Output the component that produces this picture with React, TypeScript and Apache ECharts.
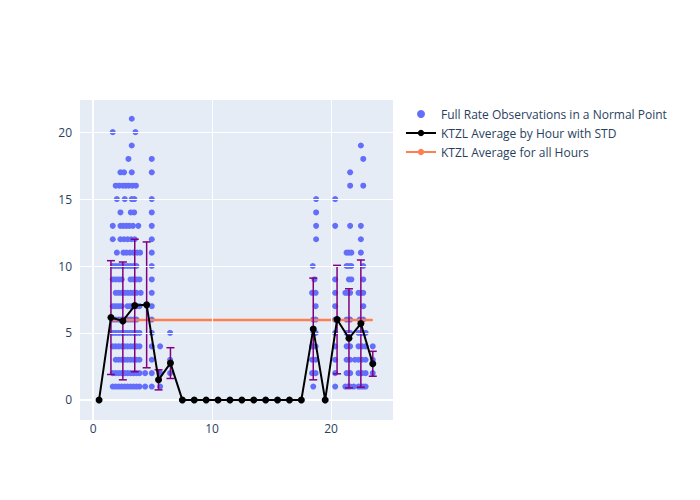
import React, { useEffect, useRef } from "react";
import * as echarts from "echarts";

// Hour-of-day averages
const avgHours = [0.5, 1.5, 2.5, 3.5, 4.5, 5.5, 6.5, 7.5, 8.5, 9.5, 10.5, 11.5, 12.5, 13.5, 14.5, 15.5, 16.5, 17.5, 18.5, 19.5, 20.5, 21.5, 22.5, 23.5];
const avgValues = [0, 6.15, 5.9, 7.05, 7.1, 1.5, 2.75, 0, 0, 0, 0, 0, 0, 0, 0, 0, 0, 0, 5.3, 0, 6.0, 4.6, 5.7, 2.7];
const stdValues = [0, 4.25, 4.4, 4.95, 4.7, 0.75, 1.15, 0, 0, 0, 0, 0, 0, 0, 0, 0, 0, 0, 3.8, 0, 4.05, 3.7, 4.75, 0.93];

// Overall average
const overallAvg = 5.97;
const overallHours = [1.5, 23.5];

// Observations: each row is a normal-point count, with the hours at which it occurred
const obsCounts = [1, 2, 3, 4, 5, 6, 7, 8, 9, 10, 11, 12, 13, 14, 15, 16, 17, 18, 19, 20, 21];
const obsHoursByCount = [
  [1.65, 1.9, 2.15, 2.4, 2.65, 2.9, 3.15, 3.4, 3.65, 3.9, 4.37, 4.93, 5.63, 18.5, 20.34, 21.2, 21.4, 21.6, 21.9, 22.3, 22.5, 22.7, 22.9],
  [1.65, 1.9, 2.15, 2.4, 2.65, 2.9, 3.15, 3.4, 3.65, 3.9, 4.37, 4.93, 5.63, 6.47, 18.4, 18.7, 20.34, 21.3, 21.6, 22.3, 22.6, 22.9, 23.5],
  [1.9, 2.15, 2.4, 2.65, 2.9, 3.15, 3.4, 3.65, 3.9, 4.93, 6.47, 18.4, 18.7, 20.34, 21.3, 21.6, 22.0, 22.3, 22.6, 22.9, 23.5],
  [1.65, 1.9, 2.15, 2.4, 2.65, 2.9, 3.15, 3.4, 3.65, 3.9, 4.93, 5.63, 18.4, 18.7, 20.34, 21.3, 21.6, 22.3, 22.6, 22.9, 23.5],
  [1.65, 1.9, 2.15, 2.4, 2.65, 2.9, 3.15, 3.4, 3.65, 3.9, 4.93, 6.47, 18.5, 18.7, 20.34, 21.3, 21.6, 22.3, 22.6, 22.9],
  [1.65, 1.9, 2.15, 2.4, 2.65, 2.9, 3.15, 3.4, 3.65, 4.93, 18.5, 18.7, 20.34, 20.6, 21.3, 21.6, 22.4, 22.7],
  [1.65, 1.9, 2.15, 2.4, 2.9, 3.15, 3.4, 3.65, 3.9, 4.93, 18.7, 20.34, 22.7],
  [1.9, 2.15, 2.4, 2.65, 2.9, 3.15, 3.4, 3.65, 4.0, 4.93, 18.4, 18.7, 20.34, 21.2, 21.4, 21.6, 22.3, 22.5, 22.7],
  [1.65, 1.9, 2.15, 2.4, 3.15, 3.4, 3.65, 3.9, 4.93, 18.6, 20.34, 21.5, 21.7, 22.7],
  [1.65, 1.9, 2.15, 2.4, 2.65, 2.9, 3.15, 3.4, 3.65, 4.93, 18.46, 21.3, 21.5, 21.7, 22.7],
  [2.0, 2.55, 2.8, 3.1, 3.4, 3.7, 3.95, 4.93, 21.3, 21.5, 21.7, 22.5],
  [1.65, 2.3, 2.6, 2.9, 3.2, 3.5, 4.93, 18.74, 22.5],
  [1.65, 2.3, 2.55, 2.8, 3.05, 3.35, 3.8, 4.93, 18.74, 20.34, 21.6, 22.5],
  [2.3, 3.17, 3.45, 4.93, 18.74],
  [2.0, 2.66, 3.25, 3.47, 4.93, 18.74, 20.34],
  [1.9, 2.2, 2.5, 2.75, 3.0, 3.3, 3.6, 21.6, 22.7],
  [2.3, 2.6, 3.25, 4.93, 21.6],
  [2.97, 4.93, 22.7],
  [3.25, 22.5],
  [1.65, 3.56],
  [3.25],
];

const xTicks = [0, 10, 20];
const yTicks = [0, 5, 10, 15, 20];

const FONT = '"Open Sans", verdana, arial, sans-serif';
const TEXT = "#2a3f5f";

export default function App() {
  const ref = useRef<HTMLDivElement>(null);
  useEffect(() => {
    if (!ref.current) return;
    const chart = echarts.init(ref.current, null, { renderer: "svg" });

    const obsData: number[][] = [];
    obsCounts.forEach((c, i) => {
      obsHoursByCount[i].forEach((h) => obsData.push([h, c]));
    });
    const avgData = avgHours.map((h, i) => [h, avgValues[i]]);
    const errData = avgHours
      .map((h, i) => [h, avgValues[i] - stdValues[i], avgValues[i] + stdValues[i]])
      .filter((d, i) => stdValues[i] > 0);

    chart.setOption({
      animation: false,
      backgroundColor: "#ffffff",
      textStyle: { fontFamily: FONT },
      grid: { left: 72, top: 92, width: 313, height: 320, backgroundColor: "#E5ECF6", show: true, borderWidth: 0 },
      xAxis: {
        type: "value",
        min: -1.1,
        max: 25.2,
        axisLine: { show: false },
        axisTick: { show: false },
        axisLabel: {
          color: TEXT,
          fontSize: 12,
          fontFamily: FONT,
          showMinLabel: false,
          showMaxLabel: false,
          margin: 2,
          formatter: (v: number) => (xTicks.includes(v) ? String(v) : ""),
        },
        splitLine: { show: false },
      },
      yAxis: {
        type: "value",
        min: -1.5,
        max: 22.4,
        axisLine: { show: false },
        axisTick: { show: false },
        axisLabel: {
          color: TEXT,
          fontSize: 12,
          fontFamily: FONT,
          showMinLabel: false,
          showMaxLabel: false,
          margin: 8,
          formatter: (v: number) => (yTicks.includes(v) ? String(v) : ""),
        },
        splitLine: { show: false },
      },
      legend: {
        orient: "vertical",
        left: 397,
        top: 100,
        padding: 0,
        itemGap: 7,
        itemWidth: 30,
        itemHeight: 8,
        textStyle: { color: TEXT, fontSize: 12, fontFamily: FONT },
        data: [
          { name: "Full Rate Observations in a Normal Point", icon: "circle" },
          { name: "KTZL Average by Hour with STD" },
          { name: "KTZL Average for all Hours" },
        ],
      },
      series: [
        {
          name: "grid",
          type: "line",
          data: [],
          silent: true,
          z: 1,
          markLine: {
            silent: true,
            symbol: "none",
            label: { show: false },
            lineStyle: { color: "#ffffff", width: 1, type: "solid" },
            data: [
              ...xTicks.map((v) => ({ xAxis: v, lineStyle: { width: v === 0 ? 2 : 1 } })),
              ...yTicks.map((v) => ({ yAxis: v, lineStyle: { width: v === 0 ? 2 : 1 } })),
            ],
          },
        },
        {
          name: "Full Rate Observations in a Normal Point",
          type: "scatter",
          data: obsData,
          symbol: "circle",
          symbolSize: 6,
          itemStyle: { color: "#636efa", opacity: 1 },
          z: 2,
        },
        {
          name: "KTZL Average for all Hours",
          type: "line",
          data: overallHours.map((h) => [h, overallAvg]),
          symbol: "none",
          lineStyle: { color: "#ff7f50", width: 2.5 },
          itemStyle: { color: "#ff7f50" },
          z: 3,
        },
        {
          name: "errbars",
          type: "custom",
          data: errData,
          z: 4,
          renderItem: (params: any, api: any) => {
            const x = api.value(0);
            const lo = api.coord([x, api.value(1)]);
            const hi = api.coord([x, api.value(2)]);
            const w = 4;
            const style = { stroke: "#800080", lineWidth: 1.5 };
            return {
              type: "group",
              children: [
                { type: "line", shape: { x1: lo[0], y1: lo[1], x2: hi[0], y2: hi[1] }, style },
                { type: "line", shape: { x1: lo[0] - w, y1: lo[1], x2: lo[0] + w, y2: lo[1] }, style },
                { type: "line", shape: { x1: hi[0] - w, y1: hi[1], x2: hi[0] + w, y2: hi[1] }, style },
              ],
            };
          },
        },
        {
          name: "KTZL Average by Hour with STD",
          type: "line",
          data: avgData,
          symbol: "circle",
          symbolSize: 7,
          lineStyle: { color: "#000000", width: 2 },
          itemStyle: { color: "#000000" },
          z: 5,
        },
      ],
    });
    return () => chart.dispose();
  }, []);
  return <div ref={ref} style={{ width: 700, height: 500 }} />;
}
